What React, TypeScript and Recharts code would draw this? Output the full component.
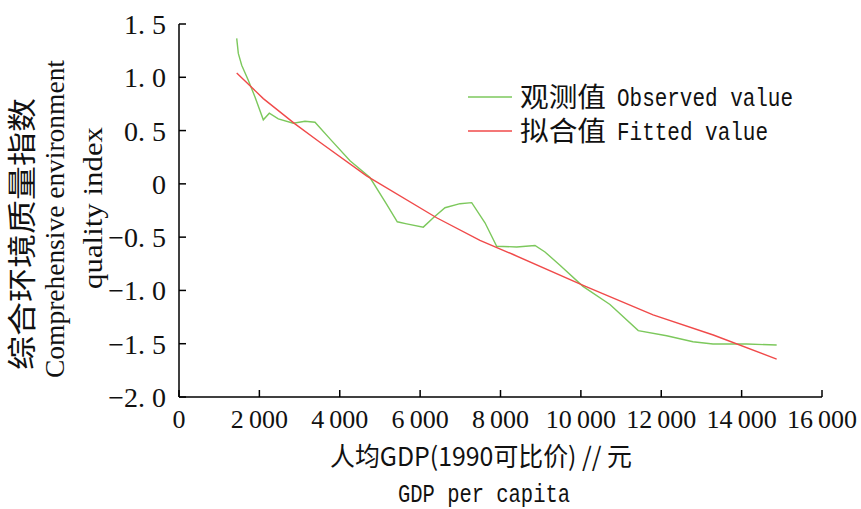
import React from "react";
import { LineChart, Line, XAxis, YAxis } from "recharts";

// observed comprehensive environment quality index vs GDP per capita
const observedGdp = [
  1436, 1476, 1560, 1724, 1891, 2098, 2247, 2471, 2844, 3135, 3384, 3757, 4255, 4752, 5168, 5432, 5666, 6079,
  6328, 6619, 6992, 7283, 7614, 7905, 8403, 8858, 9107, 9480, 10052, 10724, 11428, 12135, 12789, 13287, 14125, 14872,
];
const observedIndex = [
  1.365, 1.224, 1.113, 0.972, 0.814, 0.601, 0.663, 0.61, 0.569, 0.588, 0.578, 0.422, 0.217, 0.059, -0.192, -0.356,
  -0.375, -0.406, -0.318, -0.224, -0.186, -0.176, -0.365, -0.585, -0.592, -0.578, -0.639, -0.764, -0.962, -1.132,
  -1.377, -1.425, -1.481, -1.503, -1.503, -1.512,
];

// fitted curve
const fittedGdp = [1436, 2098, 2886, 3506, 4667, 6410, 7489, 8316, 10100, 11797, 13295, 14872];
const fittedIndex = [1.04, 0.8, 0.563, 0.39, 0.075, -0.318, -0.53, -0.663, -0.96, -1.23, -1.418, -1.644];

const xTicks = [0, 2000, 4000, 6000, 8000, 10000, 12000, 14000, 16000];
const yTicks = [-2, -1.5, -1, -0.5, 0, 0.5, 1, 1.5];

const observedData = observedGdp.map((gdp, i) => ({ gdp, value: observedIndex[i] }));
const fittedData = fittedGdp.map((gdp, i) => ({ gdp, value: fittedIndex[i] }));

const GREEN = "#7cc85c";
const RED = "#f04a4a";
const SERIF = "'Liberation Serif', 'Times New Roman', serif";
const MONO = "'Liberation Mono', 'DejaVu Sans Mono', monospace";
const CJK = "'Noto Sans CJK SC', sans-serif";

const legendItems = [
  { zh: "观测值", en: "Observed value", color: GREEN, enWidth: 176 },
  { zh: "拟合值", en: "Fitted value", color: RED, enWidth: 151 },
];

const fmtY = (v: number) => {
  if (v === 0) return "0";
  const s = Math.abs(v).toFixed(1).replace(".", ". ");
  return v < 0 ? "\u2212" + s : s;
};

const fmtX = (v: number) => {
  if (v < 1000) return String(v);
  const k = Math.floor(v / 1000);
  return `${k}\u2009000`;
};

const YTick = (props: any) => {
  const { x, y, payload } = props;
  return (
    <text x={x} y={y} dy={10} textAnchor="end" fontFamily={SERIF} fontSize={28} fill="#111">
      {fmtY(payload.value)}
    </text>
  );
};

const XTick = (props: any) => {
  const { x, y, payload } = props;
  return (
    <text x={x} y={y} dy={31} textAnchor="middle" fontFamily={SERIF} fontSize={26} fill="#111">
      {fmtX(payload.value)}
    </text>
  );
};

export default function App() {
  return (
    <div style={{ position: "absolute", left: 0, top: 0, width: 861, height: 509, background: "#fff" }}>
      <LineChart width={861} height={509} margin={{ top: 24, right: 39, bottom: 72, left: 119 }}>
        <XAxis
          type="number"
          dataKey="gdp"
          domain={[0, 16000]}
          ticks={xTicks}
          height={40}
          tickSize={-7}
          tickMargin={7}
          axisLine={{ stroke: "#000", strokeWidth: 1.5 }}
          tickLine={{ stroke: "#000", strokeWidth: 1.5 }}
          tick={<XTick />}
          allowDataOverflow
        />
        <YAxis
          type="number"
          dataKey="value"
          domain={[-2, 1.5]}
          ticks={yTicks}
          width={60}
          tickSize={-7}
          tickMargin={20}
          axisLine={{ stroke: "#000", strokeWidth: 1.5 }}
          tickLine={{ stroke: "#000", strokeWidth: 1.5 }}
          tick={<YTick />}
          allowDataOverflow
        />
        <Line
          data={observedData}
          dataKey="value"
          type="linear"
          stroke={GREEN}
          strokeWidth={1.4}
          dot={false}
          isAnimationActive={false}
        />
        <Line
          data={fittedData}
          dataKey="value"
          type="linear"
          stroke={RED}
          strokeWidth={1.4}
          dot={false}
          isAnimationActive={false}
        />
      </LineChart>
      <svg
        width={861}
        height={509}
        style={{ position: "absolute", left: 0, top: 0, pointerEvents: "none" }}
      >
        {/* legend */}
        {legendItems.map((item, i) => (
          <g key={item.en} transform={`translate(466, ${97 + i * 34})`}>
            <line x1={2} x2={46} y1={0} y2={0} stroke={item.color} strokeWidth={1.6} />
            <text x={54} y={10} fontFamily={CJK} fontSize={27} fill="#111" textLength={86} lengthAdjust="spacingAndGlyphs">
              {item.zh}
            </text>
            <text
              x={151}
              y={9}
              fontFamily={MONO}
              fontSize={25}
              fill="#111"
              textLength={item.enWidth}
              lengthAdjust="spacingAndGlyphs"
            >
              {item.en}
            </text>
          </g>
        ))}
        {/* axis titles */}
        <text
          transform="translate(33, 234) rotate(-90)"
          textAnchor="middle"
          fontFamily={CJK}
          fontSize={29}
          fill="#111"
          textLength={272}
          lengthAdjust="spacingAndGlyphs"
        >
          综合环境质量指数
        </text>
        <text
          transform="translate(64, 219) rotate(-90)"
          textAnchor="middle"
          fontFamily={SERIF}
          fontSize={27}
          fill="#111"
          textLength={318}
          lengthAdjust="spacingAndGlyphs"
        >
          Comprehensive environment
        </text>
        <text
          transform="translate(102, 208) rotate(-90)"
          textAnchor="middle"
          fontFamily={SERIF}
          fontSize={27}
          fill="#111"
          textLength={162}
          lengthAdjust="spacingAndGlyphs"
        >
          quality index
        </text>
        <text
          x={481}
          y={466}
          textAnchor="middle"
          fontFamily={CJK}
          fontSize={26}
          fill="#111"
          textLength={302}
          lengthAdjust="spacingAndGlyphs"
        >
          人均GDP(1990可比价) // 元
        </text>
        <text
          x={484}
          y={502}
          textAnchor="middle"
          fontFamily={MONO}
          fontSize={25}
          fill="#111"
          textLength={172}
          lengthAdjust="spacingAndGlyphs"
        >
          GDP per capita
        </text>
      </svg>
    </div>
  );
}
